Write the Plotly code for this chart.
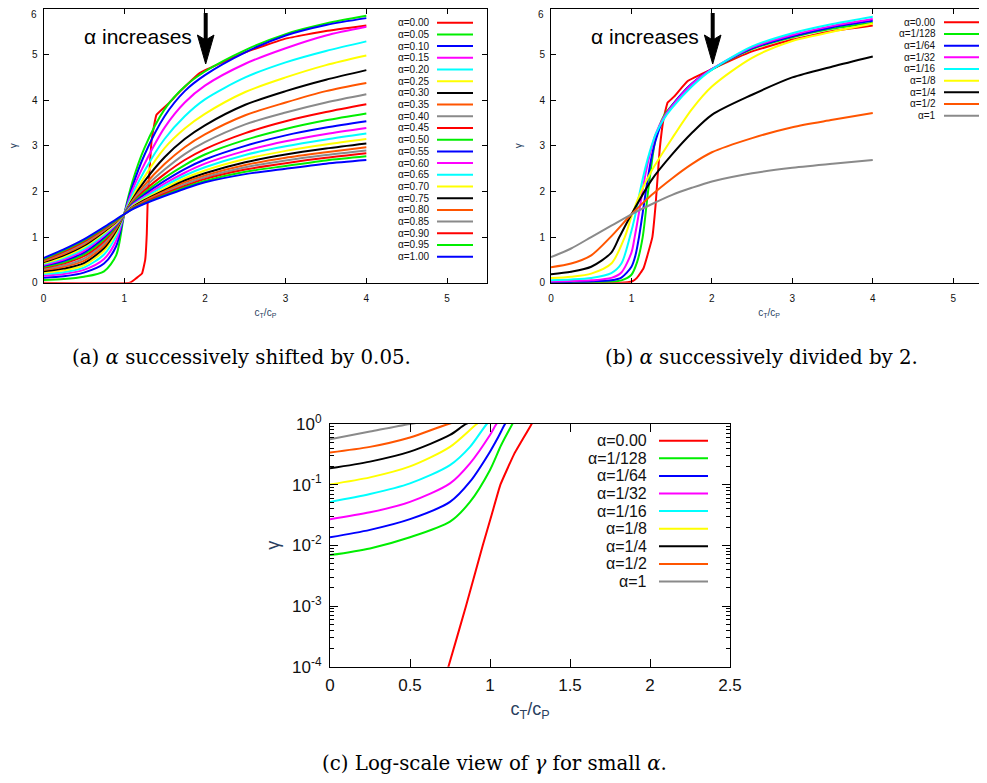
import plotly.graph_objects as go

# page body adds an 8px margin; the figure is sized and laid out to compensate
OFF = 8
W, H = 987 - OFF, 783 - OFF

# ---------------- data: panel (a), alpha shifted by 0.05 ----------------
A_LABELS = ["α=0.00", "α=0.05", "α=0.10", "α=0.15", "α=0.20", "α=0.25", "α=0.30",
            "α=0.35", "α=0.40", "α=0.45", "α=0.50", "α=0.55", "α=0.60", "α=0.65",
            "α=0.70", "α=0.75", "α=0.80", "α=0.85", "α=0.90", "α=0.95", "α=1.00"]

A0_X = [0, 1.07, 1.15, 1.22, 1.26, 1.28, 1.29, 1.34, 1.40, 1.55, 1.69, 1.94, 2.5, 3.0, 3.5, 4.0]
A0_Y = [0, 0, 0.1, 0.2, 0.5, 1.08, 1.74, 3.13, 3.68, 3.93, 4.19, 4.6, 5.05, 5.35, 5.52, 5.64]

A_X = [0, 0.25, 0.5, 0.75, 0.9, 1.0, 1.1, 1.25, 1.5, 1.75, 2.0, 2.5, 3.0, 3.5, 4.0]
A005 = [0.06, 0.08, 0.13, 0.25, 0.60, 1.5, 2.20, 2.95, 3.80, 4.30, 4.63, 5.10, 5.45, 5.68, 5.85]
A010 = [0.11, 0.14, 0.22, 0.42, 0.80, 1.5, 2.10, 2.80, 3.65, 4.20, 4.55, 5.05, 5.42, 5.65, 5.80]
A015 = [0.15, 0.19, 0.28, 0.52, 0.92, 1.5, 2.02, 2.60, 3.40, 3.95, 4.32, 4.80, 5.14, 5.42, 5.61]
A020 = [0.19, 0.23, 0.33, 0.62, 1.02, 1.5, 1.93, 2.45, 3.15, 3.65, 4.02, 4.50, 4.83, 5.08, 5.29]
A025 = [0.22, 0.27, 0.38, 0.70, 1.10, 1.5, 1.86, 2.32, 2.95, 3.38, 3.70, 4.18, 4.50, 4.77, 4.98]
A030 = [0.25, 0.31, 0.43, 0.76, 1.14, 1.5, 1.82, 2.22, 2.75, 3.15, 3.45, 3.90, 4.20, 4.45, 4.66]
A035 = [0.28, 0.35, 0.48, 0.81, 1.18, 1.5, 1.79, 2.14, 2.60, 2.97, 3.25, 3.67, 3.95, 4.20, 4.38]
A040 = [0.30, 0.38, 0.53, 0.86, 1.20, 1.5, 1.77, 2.08, 2.48, 2.82, 3.08, 3.47, 3.73, 3.95, 4.13]
A045 = [0.33, 0.42, 0.58, 0.91, 1.22, 1.5, 1.75, 2.02, 2.38, 2.69, 2.93, 3.28, 3.54, 3.74, 3.91]
A050 = [0.35, 0.45, 0.62, 0.95, 1.24, 1.5, 1.73, 1.97, 2.30, 2.58, 2.81, 3.13, 3.37, 3.56, 3.71]
A055 = [0.37, 0.48, 0.66, 0.99, 1.26, 1.5, 1.72, 1.93, 2.23, 2.49, 2.70, 3.00, 3.23, 3.40, 3.54]
A060 = [0.39, 0.51, 0.70, 1.03, 1.28, 1.5, 1.70, 1.89, 2.17, 2.41, 2.61, 2.89, 3.10, 3.26, 3.39]
A065 = [0.41, 0.54, 0.74, 1.06, 1.30, 1.5, 1.68, 1.86, 2.12, 2.35, 2.53, 2.80, 2.99, 3.14, 3.27]
A070 = [0.43, 0.57, 0.78, 1.09, 1.31, 1.5, 1.67, 1.83, 2.07, 2.29, 2.46, 2.71, 2.89, 3.03, 3.15]
A075 = [0.45, 0.60, 0.81, 1.12, 1.33, 1.5, 1.65, 1.81, 2.03, 2.24, 2.40, 2.64, 2.81, 2.94, 3.05]
A080 = [0.47, 0.63, 0.84, 1.14, 1.34, 1.5, 1.64, 1.79, 2.00, 2.20, 2.35, 2.58, 2.74, 2.86, 2.97]
A085 = [0.49, 0.66, 0.87, 1.16, 1.35, 1.5, 1.64, 1.77, 1.97, 2.16, 2.31, 2.53, 2.68, 2.80, 2.90]
A090 = [0.50, 0.68, 0.90, 1.18, 1.36, 1.5, 1.63, 1.76, 1.95, 2.12, 2.27, 2.48, 2.62, 2.74, 2.84]
A095 = [0.52, 0.71, 0.93, 1.20, 1.37, 1.5, 1.62, 1.74, 1.92, 2.09, 2.23, 2.43, 2.56, 2.68, 2.77]
A100 = [0.54, 0.73, 0.95, 1.22, 1.39, 1.5, 1.61, 1.73, 1.90, 2.06, 2.20, 2.38, 2.50, 2.61, 2.69]

# ---------------- data: panels (b) and (c), alpha divided by 2 ----------------
B_LABELS = ["α=0.00", "α=1/128", "α=1/64", "α=1/32", "α=1/16", "α=1/8", "α=1/4", "α=1/2", "α=1"]

B0_X = [0, 0.5, 0.62, 0.74, 0.85, 0.955, 1.01, 1.065, 1.15, 1.26, 1.3, 1.35, 1.4, 1.45, 1.53, 1.7, 2.0, 2.5, 3.0, 3.5, 4.0]
B0_Y = [0, 0, 1e-5, 1e-4, 1e-3, 1e-2, 0.0316, 0.1, 0.316, 1.0, 1.7, 2.9, 3.6, 3.95, 4.08, 4.42, 4.68, 5.07, 5.33, 5.52, 5.64]
B128_X = [0, 0.25, 0.5, 0.75, 0.875, 1.0, 1.07, 1.14, 1.2, 1.25, 1.3, 1.4, 1.5, 1.75, 2.0, 2.5, 3.0, 3.5, 4.0]
B128_Y = [0.0069, 0.0089, 0.0136, 0.0246, 0.052, 0.175, 0.45, 1.0, 1.9, 2.6, 3.15, 3.65, 3.88, 4.36, 4.67, 5.12, 5.38, 5.57, 5.70]
B64_X = [0, 0.25, 0.5, 0.75, 0.875, 1.0, 1.05, 1.094, 1.15, 1.2, 1.25, 1.3, 1.4, 1.5, 1.75, 2.0, 2.5, 3.0, 3.5, 4.0]
B64_Y = [0.0136, 0.018, 0.027, 0.052, 0.112, 0.35, 0.6, 1.0, 1.65, 2.25, 2.75, 3.12, 3.6, 3.87, 4.36, 4.68, 5.14, 5.4, 5.6, 5.74]
B32_X = [0, 0.25, 0.5, 0.75, 0.875, 1.0, 1.04, 1.1, 1.15, 1.2, 1.25, 1.3, 1.4, 1.5, 1.75, 2.0, 2.5, 3.0, 3.5, 4.0]
B32_Y = [0.027, 0.035, 0.052, 0.105, 0.225, 0.66, 1.0, 1.6, 2.15, 2.6, 2.95, 3.25, 3.62, 3.86, 4.35, 4.68, 5.16, 5.43, 5.63, 5.78]
B16_X = [0, 0.25, 0.5, 0.75, 0.875, 0.98, 1.05, 1.1, 1.15, 1.2, 1.25, 1.3, 1.4, 1.5, 1.75, 2.0, 2.5, 3.0, 3.5, 4.0]
B16_Y = [0.052, 0.07, 0.105, 0.21, 0.42, 1.0, 1.5, 1.95, 2.35, 2.7, 3.0, 3.25, 3.58, 3.82, 4.3, 4.67, 5.18, 5.47, 5.67, 5.83]
B8_X = [0, 0.25, 0.5, 0.75, 0.917, 1.0, 1.1, 1.25, 1.5, 1.75, 2.0, 2.5, 3.0, 3.5, 4.0]
B8_Y = [0.101, 0.132, 0.2, 0.42, 1.0, 1.45, 1.92, 2.45, 3.15, 3.8, 4.3, 4.93, 5.3, 5.5, 5.68]
B4_X = [0, 0.25, 0.5, 0.75, 0.85, 1.0, 1.25, 1.5, 1.75, 2.0, 2.5, 3.0, 3.5, 4.0]
B4_Y = [0.186, 0.24, 0.35, 0.66, 1.0, 1.5, 2.25, 2.8, 3.28, 3.68, 4.12, 4.5, 4.74, 4.96]
B2_X = [0, 0.25, 0.5, 0.74, 1.0, 1.25, 1.5, 1.75, 2.0, 2.5, 3.0, 3.5, 4.0]
B2_Y = [0.34, 0.42, 0.6, 1.0, 1.5, 1.92, 2.28, 2.6, 2.86, 3.17, 3.41, 3.57, 3.72]
B1_X = [0, 0.25, 0.5, 0.75, 1.0, 1.25, 1.5, 1.75, 2.0, 2.5, 3.0, 3.5, 4.0]
B1_Y = [0.56, 0.75, 1.0, 1.25, 1.5, 1.72, 1.92, 2.08, 2.22, 2.4, 2.52, 2.61, 2.69]

X_TICKS_AB = [0, 1, 2, 3, 4, 5]
Y_TICKS_AB = [0, 1, 2, 3, 4, 5, 6]
X_TICKS_C = [0, 0.5, 1, 1.5, 2, 2.5]
Y_TICKS_C = [1e-4, 1e-3, 1e-2, 1e-1, 1]
Y_TICKTEXT_C = ["10<sup>-4</sup>", "10<sup>-3</sup>", "10<sup>-2</sup>", "10<sup>-1</sup>", "10<sup>0</sup>"]

COLORS = ["#ff0000", "#00ee00", "#0000ff", "#ff00ff", "#00ffff", "#ffff00",
          "#000000", "#ff5500", "#8a8a8a"]

SANS = "Liberation Sans, Arial, sans-serif"
SERIF = "DejaVu Serif, Liberation Serif, serif"


def px(x):
    # screen pixel x -> paper fraction
    return (x - OFF) / W


def py(y):
    # screen pixel y -> paper fraction
    return 1 - (y - OFF) / H


fig = go.Figure()

# panel a traces
A_SERIES = [A005, A010, A015, A020, A025, A030, A035, A040, A045, A050,
            A055, A060, A065, A070, A075, A080, A085, A090, A095, A100]
fig.add_trace(go.Scatter(x=A0_X, y=A0_Y, mode="lines", xaxis="x", yaxis="y",
                         line=dict(color=COLORS[0], width=2, shape="spline", smoothing=0.3),
                         name=A_LABELS[0], showlegend=False))
for i, ys in enumerate(A_SERIES, start=1):
    fig.add_trace(go.Scatter(x=A_X, y=ys, mode="lines", xaxis="x", yaxis="y",
                             line=dict(color=COLORS[i % 9], width=2, shape="spline", smoothing=0.8),
                             name=A_LABELS[i], showlegend=False))

B_SERIES = [(B0_X, B0_Y), (B128_X, B128_Y), (B64_X, B64_Y), (B32_X, B32_Y), (B16_X, B16_Y),
            (B8_X, B8_Y), (B4_X, B4_Y), (B2_X, B2_Y), (B1_X, B1_Y)]
for i, (xs, ys) in enumerate(B_SERIES):
    sm = 0.3 if i == 0 else 0.8
    fig.add_trace(go.Scatter(x=xs, y=ys, mode="lines", xaxis="x2", yaxis="y2",
                             line=dict(color=COLORS[i], width=2, shape="spline", smoothing=sm),
                             name=B_LABELS[i], showlegend=False))
for i, (xs, ys) in enumerate(B_SERIES):
    sm = 0.3 if i == 0 else 0.8
    fig.add_trace(go.Scatter(x=xs, y=ys, mode="lines", xaxis="x3", yaxis="y3",
                             line=dict(color=COLORS[i], width=2, shape="spline", smoothing=sm),
                             name=B_LABELS[i], showlegend=False, cliponaxis=True))

axis_common = dict(showline=True, linecolor="black", linewidth=1, mirror="ticks",
                   ticks="inside", tickcolor="black", showgrid=False, zeroline=False,
                   automargin=False,
                   tickfont=dict(family=SANS, size=10, color="#111"))

# top y label (6) sits at the page edge; it is drawn as an annotation so it stays visible
Y_TICKTEXT_AB = [str(v) for v in Y_TICKS_AB[:-1]] + [""]

fig.update_layout(
    width=W, height=H, margin=dict(l=0, r=0, t=0, b=0, autoexpand=False),
    paper_bgcolor="white", plot_bgcolor="white", showlegend=False,
    xaxis=dict(domain=[px(43.5), px(487.4)], range=[0, 5.5], tickvals=X_TICKS_AB, ticklen=5,
               anchor="y", ticklabelstandoff=6,
               title=dict(text="c<sub>T</sub>/c<sub>P</sub>", font=dict(family=SANS, size=10), standoff=6),
               **axis_common),
    yaxis=dict(domain=[py(282.7), py(9)], range=[0, 6], tickvals=Y_TICKS_AB, ticktext=Y_TICKTEXT_AB,
               ticklen=5, anchor="x", ticklabelstandoff=3,
               title=dict(text="γ", font=dict(family=SANS, size=10), standoff=14),
               **axis_common),
    xaxis2=dict(domain=[px(551), 1.0], range=[0, 5.42], tickvals=X_TICKS_AB, ticklen=5,
                anchor="y2", ticklabelstandoff=6,
                title=dict(text="c<sub>T</sub>/c<sub>P</sub>", font=dict(family=SANS, size=10), standoff=6),
                **axis_common),
    yaxis2=dict(domain=[py(282.7), py(9)], range=[0, 6], tickvals=Y_TICKS_AB, ticktext=Y_TICKTEXT_AB,
                ticklen=5, anchor="x2", ticklabelstandoff=3,
                title=dict(text="γ", font=dict(family=SANS, size=10), standoff=14),
                **axis_common),
    xaxis3=dict(domain=[px(330), px(730)], range=[0, 2.5], tickvals=X_TICKS_C, ticklen=8,
                anchor="y3", automargin=False, ticklabelstandoff=3,
                showline=True, linecolor="black", linewidth=1, mirror="ticks",
                ticks="inside", tickcolor="black", showgrid=False, zeroline=False,
                tickfont=dict(family=SANS, size=17, color="#111"),
                title=dict(text="c<sub>T</sub>/c<sub>P</sub>", font=dict(family=SANS, size=18), standoff=8)),
    yaxis3=dict(domain=[py(666.7), py(424)], type="log", range=[-4, 0], anchor="x3",
                tickvals=Y_TICKS_C, ticktext=Y_TICKTEXT_C, ticklen=8, automargin=False,
                ticklabelstandoff=4,
                showline=True, linecolor="black", linewidth=1, mirror="ticks",
                ticks="inside", tickcolor="black", showgrid=False, zeroline=False,
                minor=dict(ticks="inside", ticklen=4, tickcolor="black", dtick="D1", showgrid=False),
                tickfont=dict(family=SANS, size=17, color="#111"),
                title=dict(text="γ", font=dict(family=SANS, size=18), standoff=7)),
)

annotations = []
shapes = []

# top y tick label of panels (a) and (b)
for xr in (37.5, 545):
    annotations.append(dict(text=str(Y_TICKS_AB[-1]), xref="paper", yref="paper", x=px(xr), y=1.0,
                            xanchor="right", yanchor="top", showarrow=False, borderpad=0,
                            font=dict(family=SANS, size=10, color="#111")))


def add_legend(labels, text_right, line_x0, line_x1, y0, step, size):
    for i, lab in enumerate(labels):
        yy = y0 + step * i
        annotations.append(dict(text=lab, xref="paper", yref="paper", x=px(text_right), y=py(yy),
                                xanchor="right", yanchor="middle", showarrow=False,
                                borderpad=0,
                                font=dict(family=SANS, size=size, color="#111")))
        shapes.append(dict(type="line", xref="paper", yref="paper", x0=px(line_x0), x1=px(line_x1),
                           y0=py(yy), y1=py(yy), line=dict(color=COLORS[i % 9], width=2)))


add_legend(A_LABELS, 431, 437, 473, 22.7, 11.7, 10)
add_legend(B_LABELS, 937, 944, 980, 22.3, 11.67, 10)
add_legend(B_LABELS, 648, 659, 708, 440.7, 17.6, 16)


def add_arrow(xc, text_right):
    annotations.append(dict(text="α increases", xref="paper", yref="paper", x=px(text_right), y=py(36),
                            xanchor="right", yanchor="middle", showarrow=False, borderpad=0,
                            font=dict(family=SANS, size=21, color="black")))
    shapes.append(dict(type="line", xref="paper", yref="paper", x0=px(xc), x1=px(xc),
                       y0=py(13), y1=py(40), line=dict(color="black", width=4)))
    path = "M {:.5f},{:.5f} L {:.5f},{:.5f} L {:.5f},{:.5f} L {:.5f},{:.5f} Z".format(
        px(xc), py(64), px(xc - 8.3), py(35), px(xc), py(40), px(xc + 8.3), py(35))
    shapes.append(dict(type="path", xref="paper", yref="paper", path=path,
                       fillcolor="black", line=dict(color="black", width=1)))


add_arrow(205.7, 193)
add_arrow(712.7, 700)

captions = [("(a) <i>α</i> successively shifted by 0.05.", 241, 357),
            ("(b) <i>α</i> successively divided by 2.", 761, 357),
            ("(c) Log-scale view of <i>γ</i> for small <i>α</i>.", 494, 763)]
for txt, cx, cy in captions:
    annotations.append(dict(text=txt, xref="paper", yref="paper", x=px(cx), y=py(cy),
                            xanchor="center", yanchor="middle", showarrow=False,
                            font=dict(family=SERIF, size=19.8, color="black")))

fig.update_layout(annotations=annotations, shapes=shapes)
fig.write_html("out.html")
